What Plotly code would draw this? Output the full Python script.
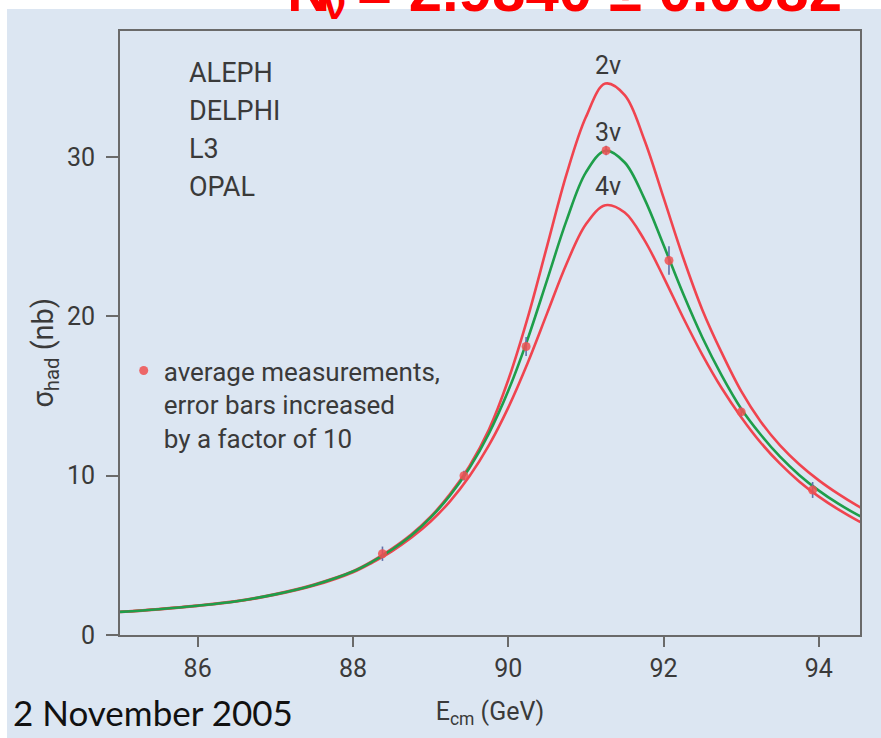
import plotly.graph_objects as go

# ---------------- data ----------------
energy = [85.0, 85.5, 86.0, 86.5, 87.0, 87.5, 88.0, 88.25, 88.5, 88.75, 89.0, 89.25,
          89.5, 89.75, 90.0, 90.25, 90.5, 90.75, 91.0, 91.25, 91.5, 91.75, 92.0,
          92.25, 92.5, 92.75, 93.0, 93.25, 93.5, 93.75, 94.0, 94.25, 94.5, 94.75]
sigma_2nu = [1.46, 1.63, 1.85, 2.13, 2.57, 3.17, 4.0, 4.63, 5.4, 6.3, 7.42, 8.84,
             10.6, 12.88, 16.0, 19.9, 24.4, 28.9, 32.5, 34.6, 33.88, 31.11, 27.44,
             23.72, 20.4, 17.7, 15.3, 13.4, 11.9, 10.7, 9.7, 8.85, 8.1, 7.45]
sigma_3nu = [1.45, 1.62, 1.84, 2.12, 2.55, 3.14, 3.98, 4.6, 5.35, 6.25, 7.37, 8.75,
             10.47, 12.63, 15.32, 18.57, 22.27, 26.0, 29.03, 30.39, 29.65, 27.41, 24.47,
             21.44, 18.67, 16.28, 14.2, 12.58, 11.19, 10.03, 9.06, 8.24, 7.54, 6.95]
sigma_4nu = [1.44, 1.61, 1.83, 2.1, 2.52, 3.1, 3.94, 4.55, 5.25, 6.1, 7.12, 8.39,
             9.96, 11.9, 14.27, 17.07, 20.18, 23.28, 25.77, 26.97, 26.51, 24.81, 22.46,
             19.94, 17.58, 15.48, 13.67, 12.08, 10.75, 9.62, 8.68, 7.88, 7.18, 6.6]
meas_energy = [88.38, 89.43, 90.23, 91.26, 92.07, 93.0, 93.92]
meas_sigma = [5.1, 10.0, 18.1, 30.4, 23.5, 14.0, 9.1]
meas_err = [0.45, 0.3, 0.6, 0.3, 0.9, 0.3, 0.5]
experiments = ["ALEPH", "DELPHI", "L3", "OPAL"]
curve_labels = ["2ν", "3ν", "4ν"]
x_ticks = [86, 88, 90, 92, 94]
y_ticks = [0, 10, 20, 30]

# ---------------- style ----------------
FONT = "Roboto, Liberation Sans, sans-serif"
BG = "#dce6f2"
AXIS = "#6a6a6a"
TXT = "#3a3a3a"
RED = "#f0444f"
GREEN = "#1e9e4a"
TITLE_FONT = "Liberation Sans, Arial, sans-serif"

fig = go.Figure()
for ys, col in [(sigma_2nu, RED), (sigma_4nu, RED), (sigma_3nu, GREEN)]:
    fig.add_trace(go.Scatter(x=energy, y=ys, mode="lines",
                             line=dict(color=col, width=2.6, shape="spline", smoothing=1.0),
                             showlegend=False, hoverinfo="skip"))

fig.add_trace(go.Scatter(
    x=meas_energy, y=meas_sigma, mode="markers",
    marker=dict(color="rgba(240,80,80,0.85)", size=9),
    error_y=dict(type="data", array=meas_err, color="#5f6fa8", thickness=1.6, width=0),
    name="average measurements,<br>error bars increased<br>by a factor of 10",
    showlegend=True))

annotations = []
# curve labels above each peak
for lab, ys in zip(curve_labels, [sigma_2nu, sigma_3nu, sigma_4nu]):
    peak = max(ys)
    annotations.append(dict(x=91.28, y=peak, xref="x", yref="y", text=lab,
                            showarrow=False, yanchor="bottom", yshift=2,
                            font=dict(family=FONT, size=25, color=TXT)))
# experiment list
for i, name in enumerate(experiments):
    annotations.append(dict(x=0.09, y=0.931 - i * 38 / 604, xref="paper", yref="paper", text=name,
                            showarrow=False, xanchor="left", yanchor="middle", align="left",
                            font=dict(family=FONT, size=27, color=TXT)))
# y axis title
annotations.append(dict(x=-0.101, y=0.468, xref="paper", yref="paper", text="σ<sub>had</sub> (nb)",
                        textangle=-90, showarrow=False, xanchor="center", yanchor="middle",
                        font=dict(family=FONT, size=29, color=TXT)))
# date
annotations.append(dict(x=-0.147, y=-0.1275, xref="paper", yref="paper", text="2 November 2005",
                        showarrow=False, xanchor="left", yanchor="middle",
                        font=dict(family="Lato, Open Sans, sans-serif", size=35, color="#111111")))
# cropped red title at top: N, subscript nu, and the value
annotations.append(dict(x=0.223, y=1.0083, xref="paper", yref="paper", text="<b>N</b>",
                        showarrow=False, xanchor="left", yanchor="bottom",
                        font=dict(family=TITLE_FONT, size=60, color="#ff0000")))
annotations.append(dict(x=0.273, y=1.0025, xref="paper", yref="paper", text="<b>ν</b>",
                        showarrow=False, xanchor="left", yanchor="bottom",
                        font=dict(family=TITLE_FONT, size=40, color="#ff0000")))
annotations.append(dict(x=0.3176, y=1.0083, xref="paper", yref="paper", text="<b>= 2.9840 ± 0.0082</b>",
                        showarrow=False, xanchor="left", yanchor="bottom",
                        font=dict(family=TITLE_FONT, size=60, color="#ff0000")))

shapes = [
    dict(type="rect", xref="paper", yref="paper", x0=-0.3, x1=1.2, y0=1.0364, y1=1.3,
         fillcolor="white", line=dict(width=0), layer="below"),
    dict(type="rect", xref="paper", yref="paper", x0=-0.3, x1=-0.1527, y0=-0.3, y1=1.3,
         fillcolor="white", line=dict(width=0), layer="below"),
]

fig.update_layout(
    width=881, height=738,
    margin=dict(l=120, r=21, t=31, b=103),
    paper_bgcolor=BG, plot_bgcolor=BG,
    annotations=annotations, shapes=shapes,
    legend=dict(x=0.005, y=0.4766, xanchor="left", yanchor="top", valign="top",
                bgcolor="rgba(0,0,0,0)", font=dict(family=FONT, size=26, color=TXT),
                itemwidth=30),
    xaxis=dict(range=[85.0, 94.53], tickvals=x_ticks, ticks="outside", ticklen=10, tickwidth=1.5,
               tickcolor=AXIS, showline=True, linecolor=AXIS, linewidth=2, mirror=True,
               showgrid=False, zeroline=False, ticklabelstandoff=0,
               tickfont=dict(family=FONT, size=25, color=TXT),
               title=dict(text="E<sub>cm</sub> (GeV)", font=dict(family=FONT, size=25, color=TXT), standoff=20)),
    yaxis=dict(range=[0, 37.9], tickvals=y_ticks, ticks="outside", ticklen=12, tickwidth=1.5,
               tickcolor=AXIS, showline=True, linecolor=AXIS, linewidth=2, mirror=True,
               showgrid=False, zeroline=False, ticklabelstandoff=6,
               tickfont=dict(family=FONT, size=25, color=TXT)),
)

fig.write_html("out.html", config={"displayModeBar": False},
               post_script="document.body.style.margin='0';document.body.style.padding='0';")
